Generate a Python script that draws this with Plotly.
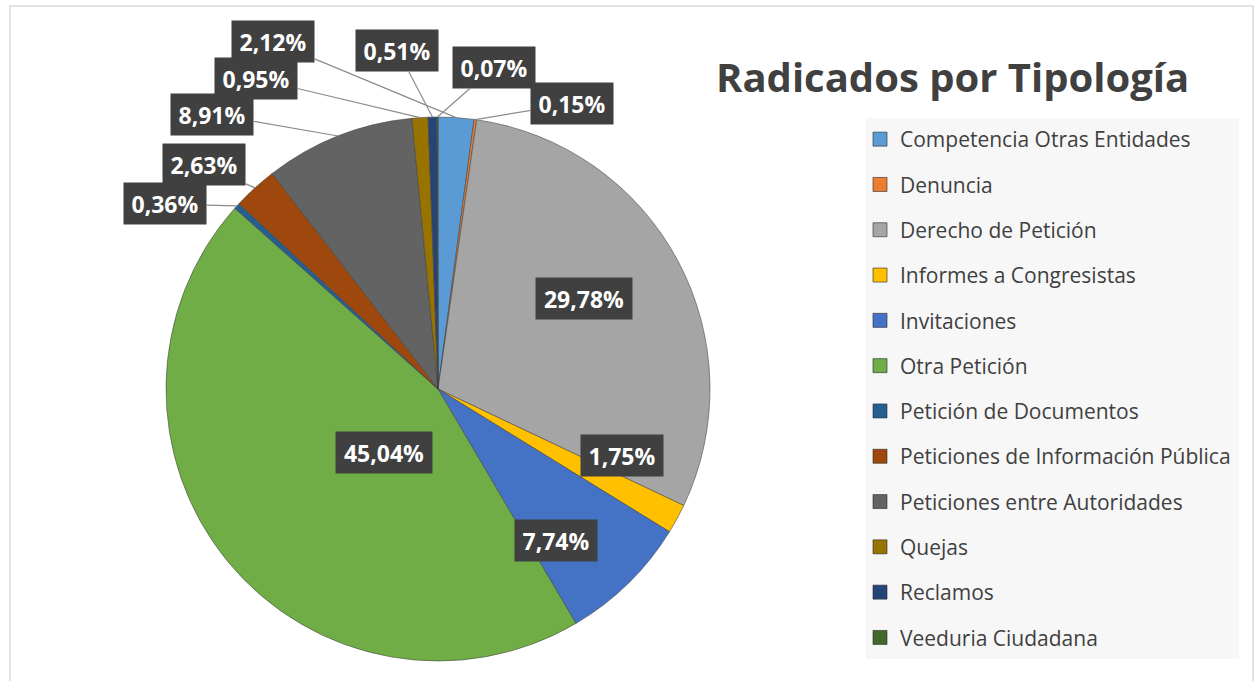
import numpy as np
import plotly.graph_objects as go

# Datos del grafico (orden de la leyenda, igual al orden de las porciones)
categorias = [
    'Competencia Otras Entidades',
    'Denuncia',
    'Derecho de Petición',
    'Informes a Congresistas',
    'Invitaciones',
    'Otra Petición',
    'Petición de Documentos',
    'Peticiones de Información Pública',
    'Peticiones entre Autoridades',
    'Quejas',
    'Reclamos',
    'Veeduria Ciudadana',
]
porcentajes = [2.12, 0.15, 29.78, 1.75, 7.74, 45.04, 0.36, 2.63, 8.91, 0.95, 0.51, 0.07]
colores = ['#5B9BD5', '#ED7D31', '#A5A5A5', '#FFC000', '#4472C4', '#70AD47',
           '#255E91', '#9E480E', '#636363', '#997300', '#264478', '#43682B']

etiquetas = [f'{v:.2f}%'.replace('.', ',') for v in porcentajes]

# Tamano de la figura y geometria del pastel (px)
W, H = 1259, 681
cx, cy, R = 438, 389, 272

# Posicion de cada etiqueta: dentro ('in', fraccion del radio, ajuste de angulo)
# o fuera con linea guia ('out', desplazamiento x, desplazamiento y en px)
pos_etiquetas = [
    ('out', -183, -76),
    ('out', 97, -16),
    ('in', 0.63, -3.5),
    ('in', 0.75, -3.0),
    ('in', 0.77, 10.0),
    ('in', 0.49, 0.0),
    ('out', -72, -2),
    ('out', -51, -23),
    ('out', -126, -22),
    ('out', -164, -39),
    ('out', -35, -67),
    ('out', 57, -50),
]

total = sum(porcentajes)
fin = np.cumsum(porcentajes) / total
inicio = fin - np.array(porcentajes) / total
medio = (inicio + fin) / 2 * 360  # grados desde las 12, sentido horario

fig = go.Figure()

fig.add_trace(go.Pie(
    labels=categorias,
    values=porcentajes,
    sort=False,
    direction='clockwise',
    rotation=0,
    textinfo='none',
    hoverinfo='label+percent',
    marker=dict(colors=colores, line=dict(color='rgba(64,64,64,0.55)', width=1)),
    domain=dict(x=[(cx - R) / W, (cx + R) / W], y=[(H - cy - R) / H, (H - cy + R) / H]),
    showlegend=False,
))

# Leyenda con marcadores cuadrados (una entrada por categoria)
for nombre, color in zip(categorias, colores):
    fig.add_trace(go.Scatter(
        x=[None], y=[None], mode='markers', name=nombre, legendgroup=nombre,
        marker=dict(symbol='square', size=14, color=color,
                    line=dict(color='rgba(40,40,40,0.6)', width=1)),
    ))

# Etiquetas de datos con fondo oscuro
anotaciones = []
for i, (txt, p) in enumerate(zip(etiquetas, pos_etiquetas)):
    ancho = 82 if len(txt) <= 5 else 96
    base = dict(text=f'<b>{txt}</b>', xref='paper', yref='paper',
                bgcolor='#404040', width=ancho, height=41, borderpad=0,
                font=dict(family='Open Sans', size=23, color='white'))
    if p[0] == 'in':
        ang = np.radians(medio[i] + p[2])
        r = p[1] * R
        px, py = cx + r * np.sin(ang), cy - r * np.cos(ang)
        anotaciones.append(dict(base, x=px / W, y=1 - py / H, showarrow=False))
    else:
        ang = np.radians(medio[i])
        px, py = cx + R * np.sin(ang), cy - R * np.cos(ang)
        anotaciones.append(dict(base, x=px / W, y=1 - py / H, showarrow=True,
                                ax=p[1], ay=p[2], arrowhead=0, arrowwidth=1.2,
                                arrowcolor='#8c8c8c', standoff=0))

fig.update_layout(
    width=W, height=H,
    margin=dict(l=0, r=0, t=0, b=0),
    paper_bgcolor='white',
    plot_bgcolor='white',
    title=dict(text='<b>Radicados por Tipología</b>', x=716 / W, xanchor='left',
               y=1 - 78 / H, yanchor='middle',
               font=dict(family='Open Sans', size=40, color='#404040')),
    xaxis=dict(visible=False),
    yaxis=dict(visible=False),
    legend=dict(x=860 / W, xanchor='left', y=1 - 119 / H, yanchor='top',
                bgcolor='rgba(0,0,0,0)', tracegroupgap=15,
                font=dict(family='Open Sans', size=21, color='#404040')),
    annotations=anotaciones,
    shapes=[
        # marco del area del grafico
        dict(type='rect', xref='paper', yref='paper', x0=10 / W, x1=1253 / W,
             y0=-0.1, y1=1 - 6 / H, line=dict(color='#d9d9d9', width=1.5), layer='below'),
        # fondo de la leyenda
        dict(type='rect', xref='paper', yref='paper', x0=866 / W, x1=1239 / W,
             y0=1 - 659 / H, y1=1 - 118 / H, fillcolor='#f7f7f7',
             line=dict(width=0), layer='below'),
    ],
)

# sin margen del body para que la figura ocupe la ventana desde (0, 0)
fig.write_html('out.html', config={'displayModeBar': False},
               post_script="document.body.style.margin='0';")
